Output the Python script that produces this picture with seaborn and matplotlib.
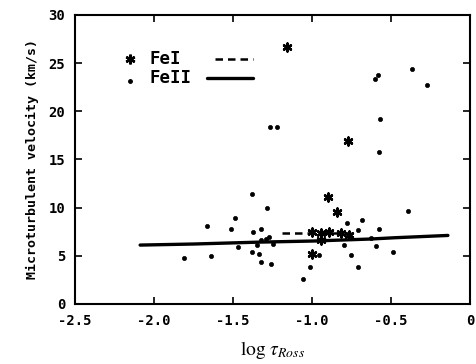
import matplotlib
matplotlib.use("Agg")
import matplotlib.pyplot as plt
import seaborn as sns
import pandas as pd
from matplotlib.lines import Line2D

# ---- data ----
fe1_logtau = [-1.155, -0.774, -0.897, -0.842, -0.996, -0.996, -0.943, -0.891,
              -0.816, -0.764, -0.943]
fe1_vturb = [26.7, 16.9, 11.1, 9.5, 5.15, 7.45, 7.35, 7.45, 7.35, 7.2, 6.67]

fe2_logtau = [-1.267, -1.223, -0.598, -0.579, -0.365, -0.270, -0.569, -0.575,
              -1.377, -1.287, -0.393, -1.663, -1.488, -1.509, -1.371, -1.325,
              -1.274, -1.466, -1.812, -1.636, -1.377, -1.337, -1.325, -1.257,
              -1.346, -1.325, -1.293, -1.247, -1.053, -1.009, -0.952, -0.795,
              -0.778, -0.753, -0.710, -0.706, -0.685, -0.626, -0.594, -0.577,
              -0.488]
fe2_vturb = [18.35, 18.35, 23.4, 23.8, 24.4, 22.75, 19.2, 15.8,
             11.4, 10.0, 9.6, 8.1, 8.97, 7.8, 7.45, 7.8,
             7.0, 5.9, 4.8, 5.0, 5.4, 5.2, 4.4, 4.1,
             6.1, 6.6, 6.7, 6.26, 2.6, 3.8, 5.05, 6.15,
             8.4, 5.05, 3.8, 7.7, 8.76, 6.8, 6.0, 7.8,
             5.36]

fe1_fit_x = [-1.187, -0.753]
fe1_fit_y = [7.4, 7.4]

fe2_fit_x = [-2.087, -1.748, -1.325, -0.992, -0.626, -0.478, -0.139]
fe2_fit_y = [6.11, 6.22, 6.42, 6.53, 6.74, 6.87, 7.11]

xticks = [-2.5, -2.0, -1.5, -1.0, -0.5, 0.0]
xticklabels = ["-2.5", "-2.0", "-1.5", "-1.0", "-0.5", "0"]
yticks = [0, 5, 10, 15, 20, 25, 30]

# ---- plot ----
sns.set_theme(style="ticks")
plt.rcParams["font.family"] = ["DejaVu Sans Mono", "DejaVu Sans"]
plt.rcParams["mathtext.fontset"] = "stix"

fig = plt.figure(figsize=(4.77, 3.64), dpi=100)
ax = fig.add_axes([0.157, 0.165, 0.828, 0.794])

df1 = pd.DataFrame({"x": fe1_logtau, "y": fe1_vturb})
df2 = pd.DataFrame({"x": fe2_logtau, "y": fe2_vturb})
dl1 = pd.DataFrame({"x": fe1_fit_x, "y": fe1_fit_y})
dl2 = pd.DataFrame({"x": fe2_fit_x, "y": fe2_fit_y})

sns.lineplot(data=dl2, x="x", y="y", ax=ax, color="black", lw=2.4, sort=False)
sns.lineplot(data=dl1, x="x", y="y", ax=ax, color="black", lw=1.8,
             linestyle=(0, (3, 2)), sort=False)
sns.scatterplot(data=df2, x="x", y="y", ax=ax, color="black", marker="o",
                s=9, edgecolor="black", linewidth=0.5)
sns.scatterplot(data=df1, x="x", y="y", ax=ax, color="black", marker=(6, 2, 0),
                s=32, linewidth=1.8)

ax.set_xlim(-2.5, 0)
ax.set_ylim(0, 30)
ax.set_xticks(xticks)
ax.set_xticklabels(xticklabels)
ax.set_yticks(yticks)
ax.tick_params(direction="in", length=5, width=1.2, top=True, right=True,
               labelsize=10, pad=7, colors="black")
for lab in ax.get_xticklabels() + ax.get_yticklabels():
    lab.set_fontweight("bold")
for sp in ax.spines.values():
    sp.set_visible(True)
    sp.set_linewidth(1.5)
    sp.set_color("black")

ax.set_xlabel(r"$\mathrm{log}\ \tau_{Ross}$", fontsize=14, labelpad=8,
              color="black")
ax.set_ylabel("Microturbulent velocity (km/s)", fontsize=9.5,
              fontweight="bold", labelpad=7, color="black")

# legend (marker, label, line sample)
tr = ax.transAxes
ax.add_line(Line2D([0.139], [0.848], transform=tr, marker=(6, 2, 0),
                   markersize=7, mew=1.8, color="black", ls="none"))
ax.text(0.19, 0.848, "FeI", transform=tr, fontsize=12.5, va="center",
        ha="left", color="black", fontweight="bold")
ax.add_line(Line2D([0.354, 0.451], [0.848, 0.848], transform=tr,
                   color="black", lw=1.8, ls=(0, (3, 2))))
ax.add_line(Line2D([0.139], [0.772], transform=tr, marker="o",
                   markersize=2.5, color="black", ls="none"))
ax.text(0.19, 0.782, "FeII", transform=tr, fontsize=12.5, va="center",
        ha="left", color="black", fontweight="bold")
ax.add_line(Line2D([0.335, 0.451], [0.782, 0.782], transform=tr,
                   color="black", lw=2.4))

fig.savefig("out.png", dpi=100)
